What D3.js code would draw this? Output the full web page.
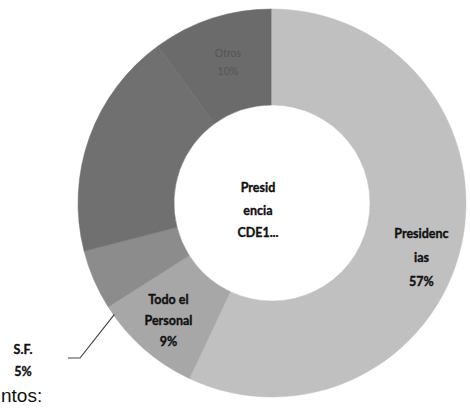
<!DOCTYPE html>
<html><head><meta charset="utf-8">
<script src="https://cdn.jsdelivr.net/npm/d3@7"></script>
<style>html,body{margin:0;padding:0;background:#fff;overflow:hidden}</style>
</head><body>
<svg id="c" width="470" height="409"></svg>
<script>
const categories = ["Presidencias", "Todo el Personal", "S.F.", "Presidencia CDE1...", "Otros"];
const values = [57, 9, 5, 19, 10];
const labelLines = [["Presidenc","ias","57%"],["Todo el","Personal","9%"],["S.F.","5%"],["Presid","encia","CDE1..."],["Otros","10%"]];
const colors = ["#c0c0c0", "#a7a7a7", "#8c8c8c", "#707070", "#6b6b6b"];

const svg = d3.select("#c");
const cx = 272, cy = 203, R = 194, r0 = 98;
const g = svg.append("g").attr("transform", `translate(${cx},${cy})`);
const pie = d3.pie().sort(null).value(d => d);
const arcs = pie(values);
const arc = d3.arc().innerRadius(r0).outerRadius(R);
g.selectAll("path").data(arcs).enter().append("path")
  .attr("d", arc).attr("fill", (d,i) => colors[i])
  .attr("stroke", (d,i) => colors[i]).attr("stroke-width", 0.5);
g.append("line").attr("x1", 0).attr("y1", -r0).attr("x2", 0).attr("y2", -R)
  .attr("stroke", "#d4d4d4").attr("stroke-width", 1);

const place = [
  {mode:"centroid", dx:7, dy:23, color:"#111", bold:true, size:12.5},
  {mode:"centroid", dx:-7, dy:8, color:"#111", bold:true, size:12.5},
  {mode:"fixed", x:23-cx, y:350-cy, color:"#111", bold:true, size:12.5},
  {mode:"fixed", x:258-cx, y:188-cy, color:"#111", bold:true, size:12.5},
  {mode:"centroid", dx:1, dy:-2, color:"#555", bold:false, size:10.5}
];
const lh = [24, 21, 22, 22.5, 18];
arcs.forEach((a, i) => {
  const p = place[i];
  let x, y;
  const lines = labelLines[i];
  if (p.mode === "centroid") {
    const c = arc.centroid(a);
    x = c[0] + p.dx; y = c[1] + p.dy - (lines.length - 1) * lh[i] / 2;
  } else { x = p.x; y = p.y; }
  const t = g.append("text").attr("text-anchor", "middle")
    .attr("font-family", "Lato, 'Open Sans', sans-serif")
    .attr("font-weight", p.bold ? "bold" : "normal")
    .attr("font-size", p.size).attr("fill", p.color)
    .attr("stroke", p.bold ? p.color : "none").attr("stroke-width", 0.35);
  lines.forEach((s, k) => {
    t.append("tspan").attr("x", x).attr("y", y + k * lh[i]).attr("dy", "0.35em").text(s);
  });
});

const sf = arcs[2];
const ang = sf.startAngle - 0.05;
const ex = Math.sin(ang) * (R - 1), ey = -Math.cos(ang) * (R - 1);
g.append("path")
  .attr("d", d3.line()([[68 - cx, 358 - cy], [80 - cx, 358 - cy], [ex, ey]]))
  .attr("fill", "none").attr("stroke", "#444").attr("stroke-width", 1.2);

svg.append("text").attr("x", 1).attr("y", 402)
  .attr("font-family", "'Liberation Sans', Arial, sans-serif")
  .attr("font-size", 19).attr("fill", "#111").text("ntos:");
</script>
</body></html>
